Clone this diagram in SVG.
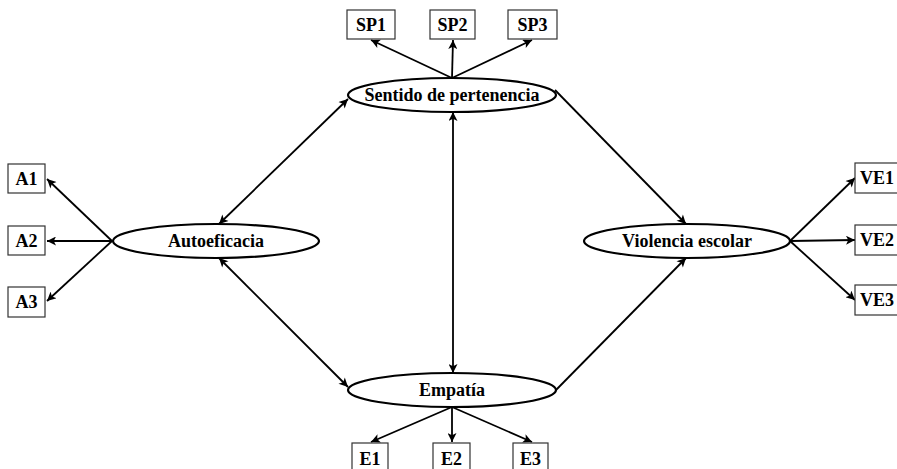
<svg xmlns="http://www.w3.org/2000/svg" width="897" height="469" viewBox="0 0 897 469">
<style>
.lat{fill:#fff;stroke:#000;stroke-width:2.2}
.box{fill:#fff;stroke:#333;stroke-width:1.2}
.t{font-family:"Liberation Serif","Times New Roman",serif;font-weight:bold;font-size:18px;fill:#000;text-anchor:middle}
.c{stroke:#000;stroke-width:1.8;fill:none}
</style>
<defs>
<marker id="ah" viewBox="0 0 10 10" refX="10" refY="5" markerWidth="10" markerHeight="9" markerUnits="userSpaceOnUse" orient="auto-start-reverse">
<path d="M0,0 L10,5 L0,10 L2.5,5 z" fill="#000"/>
</marker>
</defs>
<g id="connectors">
<line class="c" x1="452" y1="78" x2="371" y2="40" marker-end="url(#ah)"/>
<line class="c" x1="452" y1="78" x2="453" y2="40" marker-end="url(#ah)"/>
<line class="c" x1="452" y1="78" x2="532" y2="40" marker-end="url(#ah)"/>
<line class="c" x1="112" y1="241" x2="47" y2="179" marker-end="url(#ah)"/>
<line class="c" x1="112" y1="241" x2="47" y2="241" marker-end="url(#ah)"/>
<line class="c" x1="112" y1="241" x2="47" y2="301" marker-end="url(#ah)"/>
<line class="c" x1="790" y1="241" x2="855" y2="178" marker-end="url(#ah)"/>
<line class="c" x1="790" y1="241" x2="855" y2="240" marker-end="url(#ah)"/>
<line class="c" x1="790" y1="241" x2="855" y2="300" marker-end="url(#ah)"/>
<line class="c" x1="452" y1="407" x2="371" y2="442" marker-end="url(#ah)"/>
<line class="c" x1="452" y1="407" x2="452" y2="442" marker-end="url(#ah)"/>
<line class="c" x1="452" y1="407" x2="532" y2="442" marker-end="url(#ah)"/>
<line class="c" x1="219" y1="224" x2="348" y2="99" marker-start="url(#ah)" marker-end="url(#ah)"/>
<line class="c" x1="219" y1="258" x2="348" y2="387" marker-start="url(#ah)" marker-end="url(#ah)"/>
<line class="c" x1="453" y1="112" x2="453" y2="373" marker-start="url(#ah)" marker-end="url(#ah)"/>
<line class="c" x1="555" y1="90" x2="686" y2="224" marker-end="url(#ah)"/>
<line class="c" x1="556" y1="390" x2="686" y2="258" marker-end="url(#ah)"/>
</g>
<g id="sentido"><ellipse class="lat" cx="452" cy="95" rx="104" ry="17"/><text class="t" x="452" y="101">Sentido de pertenencia</text></g>
<g id="autoeficacia"><ellipse class="lat" cx="216" cy="241" rx="103" ry="17"/><text class="t" x="216" y="247">Autoeficacia</text></g>
<g id="violencia"><ellipse class="lat" cx="687" cy="241" rx="103" ry="17"/><text class="t" x="687" y="247">Violencia escolar</text></g>
<g id="empatia"><ellipse class="lat" cx="452" cy="390" rx="104" ry="17"/><text class="t" x="452" y="396">Empatía</text></g>
<g id="SP1"><rect class="box" x="347" y="10" width="48" height="29"/><text class="t" x="371" y="31">SP1</text></g>
<g id="SP2"><rect class="box" x="430" y="10" width="45" height="29"/><text class="t" x="452.5" y="31">SP2</text></g>
<g id="SP3"><rect class="box" x="508" y="10" width="49" height="29"/><text class="t" x="532.5" y="31">SP3</text></g>
<g id="A1"><rect class="box" x="8" y="164" width="37" height="29"/><text class="t" x="26.5" y="185">A1</text></g>
<g id="A2"><rect class="box" x="8" y="226" width="37" height="29"/><text class="t" x="26.5" y="247">A2</text></g>
<g id="A3"><rect class="box" x="8" y="287" width="37" height="30"/><text class="t" x="26.5" y="308">A3</text></g>
<g id="VE1"><rect class="box" x="855" y="163" width="50" height="30"/><text class="t" x="877" y="184">VE1</text></g>
<g id="VE2"><rect class="box" x="855" y="225" width="50" height="30"/><text class="t" x="877" y="246">VE2</text></g>
<g id="VE3"><rect class="box" x="855" y="285" width="50" height="30"/><text class="t" x="877" y="306">VE3</text></g>
<g id="E1"><rect class="box" x="352" y="443" width="36" height="30"/><text class="t" x="370" y="465">E1</text></g>
<g id="E2"><rect class="box" x="433" y="443" width="37" height="30"/><text class="t" x="451.5" y="465">E2</text></g>
<g id="E3"><rect class="box" x="513" y="443" width="35" height="30"/><text class="t" x="530.5" y="465">E3</text></g>
</svg>
